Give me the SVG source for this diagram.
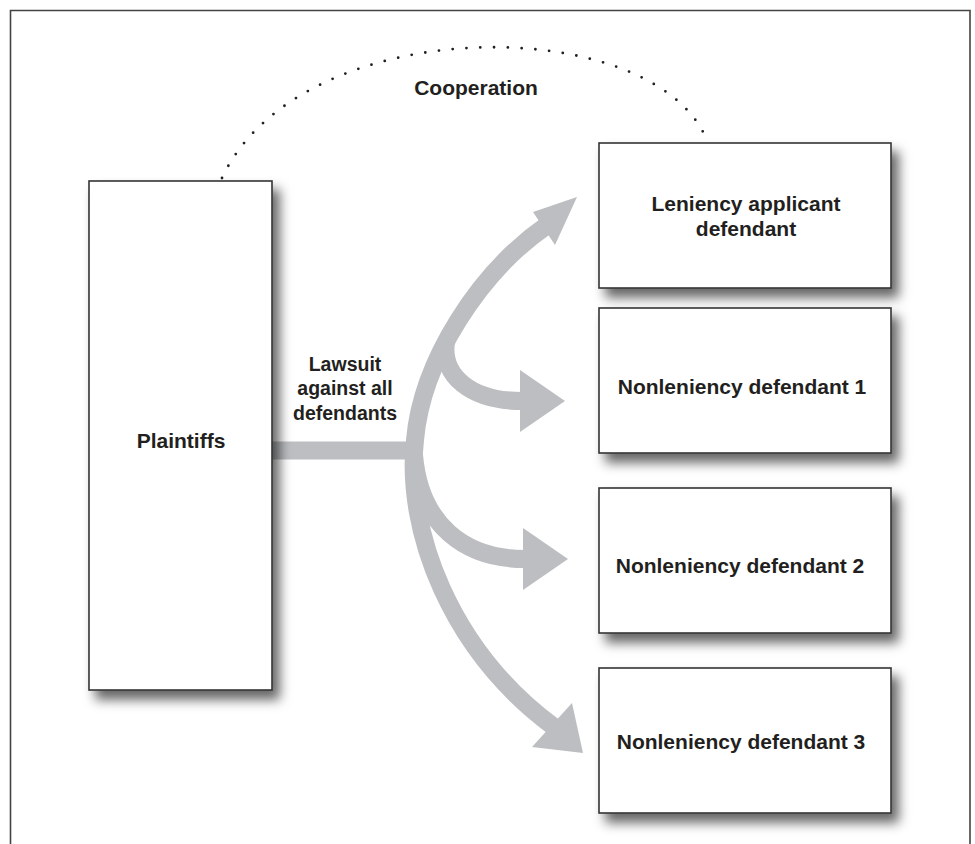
<svg xmlns="http://www.w3.org/2000/svg" width="975" height="844" viewBox="0 0 975 844">
  <style>
    .lbl { font-family: "Liberation Sans", Arial, Helvetica, sans-serif; font-weight: bold; fill: #231f20; text-anchor: middle; }
    .box { fill: #ffffff; stroke: #333333; stroke-width: 1.6; }
    .arrow { fill: none; stroke: #bcbec1; stroke-width: 18; }
    .head { fill: #bcbec1; }
    .dots { fill: none; stroke: #231f20; stroke-width: 2.8; stroke-linecap: round; stroke-dasharray: 0 13.8; }
  </style>
  <defs>
    <filter id="shadow" x="-25%" y="-25%" width="160%" height="160%">
      <feDropShadow dx="7" dy="9" stdDeviation="6" flood-color="#000000" flood-opacity="0.6"/>
    </filter>
  </defs>
  <rect width="975" height="844" fill="#ffffff"/>
  <!-- outer frame (open at bottom) -->
  <path d="M 10.5 850 L 10.5 10.5 L 970 10.5 L 970 850" fill="none" stroke="#444444" stroke-width="1.6"/>

  <g id="connectors">
    <!-- cooperation dotted arc -->
    <path class="dots" d="M 222 178 C 300 11, 650 11, 706 138"/>
    <!-- lawsuit bar -->
    <path class="arrow" d="M 265 450.5 L 418 450.5" stroke-width="19"/>
    <!-- main trunk -->
    <path class="arrow" d="M 554 727 C 450 650, 405 530, 415 440 C 422 360, 480 272, 546 226"/>
    <polygon class="head" points="577,197 533,212 555,245"/>
    <polygon class="head" points="583,753 532,747 572,703"/>
    <!-- branch to defendant 1 -->
    <path class="arrow" d="M 446 342 C 441 375, 470 401, 522 401"/>
    <polygon class="head" points="565,401 520,370 520,432"/>
    <!-- branch to defendant 2 -->
    <path class="arrow" d="M 414 455 C 420 525, 465 559, 525 559"/>
    <polygon class="head" points="568,559 523,528 523,590"/>
    <text class="lbl" x="476" y="95" font-size="21">Cooperation</text>
    <text class="lbl" x="345" y="371" font-size="19.5">Lawsuit</text>
    <text class="lbl" x="345" y="395" font-size="19.5">against all</text>
    <text class="lbl" x="345" y="420" font-size="19.5">defendants</text>
  </g>

  <g id="plaintiffs">
    <rect class="box" x="89" y="181" width="183" height="509" filter="url(#shadow)"/>
    <text class="lbl" x="181" y="448" font-size="21">Plaintiffs</text>
  </g>
  <g id="leniency-applicant">
    <rect class="box" x="599" y="143" width="292" height="145" filter="url(#shadow)"/>
    <text class="lbl" x="746" y="211" font-size="21">Leniency applicant</text>
    <text class="lbl" x="746" y="236" font-size="21">defendant</text>
  </g>
  <g id="nonleniency-1">
    <rect class="box" x="599" y="308" width="292" height="145" filter="url(#shadow)"/>
    <text class="lbl" x="742" y="394" font-size="21">Nonleniency defendant 1</text>
  </g>
  <g id="nonleniency-2">
    <rect class="box" x="599" y="488" width="292" height="145" filter="url(#shadow)"/>
    <text class="lbl" x="740" y="573" font-size="21">Nonleniency defendant 2</text>
  </g>
  <g id="nonleniency-3">
    <rect class="box" x="599" y="668" width="292" height="145" filter="url(#shadow)"/>
    <text class="lbl" x="741" y="749" font-size="21">Nonleniency defendant 3</text>
  </g>
</svg>
